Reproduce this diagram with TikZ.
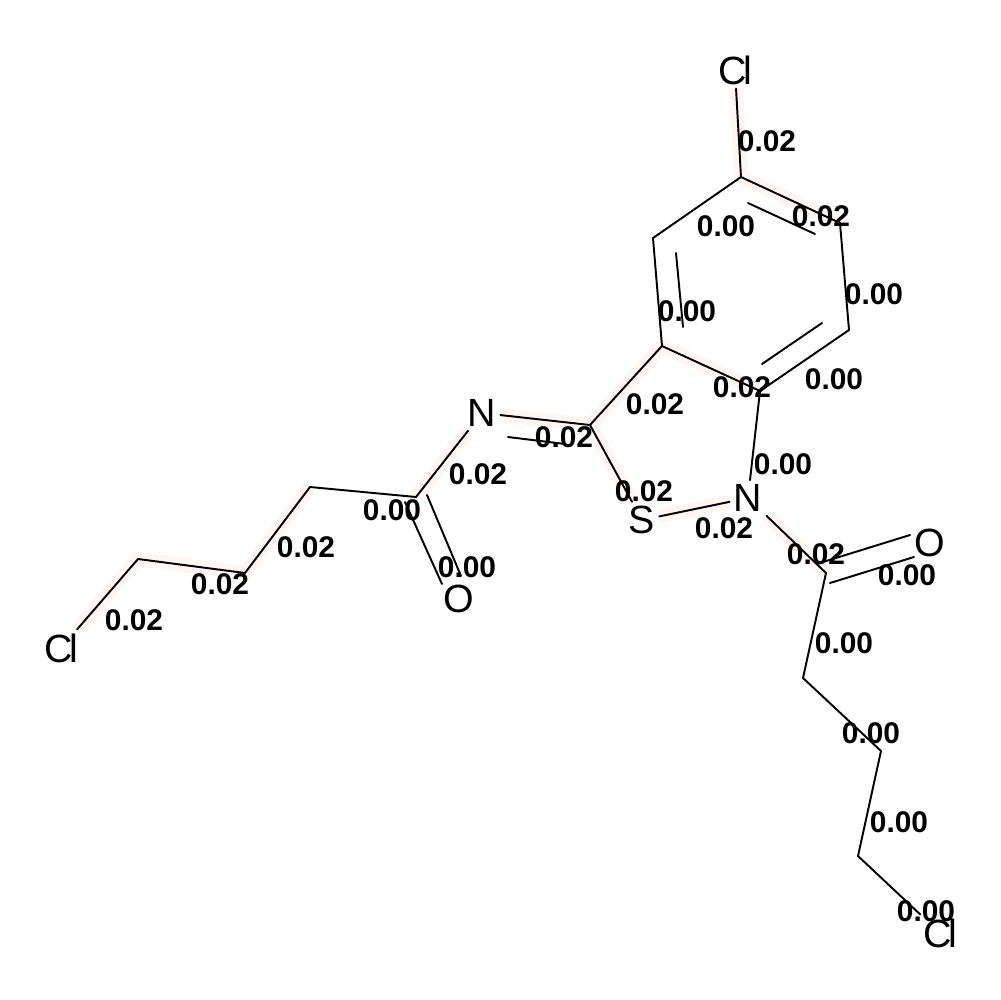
\documentclass[tikz,border=0pt]{standalone}
\usepackage{fontspec}
\setmainfont{Liberation Sans}
\definecolor{halocol}{HTML}{FFF6F4}
\newcommand{\chlorine}{C\kern-1pt l}
\tikzset{
  atom/.style={inner sep=1pt,font=\fontsize{11.2}{13}\selectfont},
  weight/.style={inner sep=0pt,font=\fontsize{8.5}{10}\selectfont\bfseries},
  bond/.style={draw,line width=0.55pt,line cap=round},
  halo/.style={draw=halocol,line width=4pt}
}
\begin{document}
\begin{tikzpicture}[x=0.1mm,y=-0.1mm]
      \useasboundingbox (0,0) rectangle (1000,1000);
      % Atoms
      \node[atom] (cl1) at (735,70) {\chlorine};
      \coordinate (c1) at (741,177);
      \coordinate (c2) at (840,223);
      \coordinate (c3) at (849,330);
      \coordinate (c4) at (760,391);
      \coordinate (c5) at (662,346);
      \coordinate (c6) at (653,238);
      \node[atom] (n2) at (748,498) {N};
      \node[atom] (s) at (642,520) {S};
      \coordinate (c7) at (590,425);
      \node[atom] (n1) at (482,413) {N};
      \coordinate (c8) at (416,497);
      \node[atom] (o1) at (459,599) {O};
      \coordinate (c9) at (310,487);
      \coordinate (c10) at (245,573);
      \coordinate (c11) at (138,559);
      \node[atom] (cl2) at (61,648) {\chlorine};
      \coordinate (c12) at (826,573);
      \node[atom] (o2) at (930,543) {O};
      \coordinate (c13) at (803,678);
      \coordinate (c14) at (881,751);
      \coordinate (c15) at (858,856);
      \node[atom] (cl3) at (940,933) {\chlorine};

      % Second lines of the double bonds
      \coordinate (d1a) at (748,203);
      \coordinate (d1b) at (815,234);
      \coordinate (d2a) at (676,253);
      \coordinate (d2b) at (683,327);
      \coordinate (d3a) at (762,364);
      \coordinate (d3b) at (822,323);
      \coordinate (d4a) at (508,437);
      \coordinate (d4b) at (565,444);
      \coordinate (d5a) at (427,495);
      \coordinate (d5b) at (461,576);
      \coordinate (d5c) at (405,502);
      \coordinate (d5d) at (442,584);
      \coordinate (d6a) at (830,583);
      \coordinate (d6b) at (914,557);
      \coordinate (d6c) at (823,562);
      \coordinate (d6d) at (910,535);

      % Highlight
      \draw[halo] (cl1) -- (c1) -- (c2);
      \draw[halo] (c4) -- (c5) -- (c7) -- (n1) -- (c8);
      \draw[halo] (c7) -- (s) -- (n2) -- (c12);
      \draw[halo] (c9) -- (c10) -- (c11) -- (cl2);

      % Bonds
      \draw[bond] (cl1) -- (c1);
      \draw[bond] (c1) -- (c2);
      \draw[bond] (d1a) -- (d1b);
      \draw[bond] (c2) -- (c3);
      \draw[bond] (c3) -- (c4);
      \draw[bond] (d3a) -- (d3b);
      \draw[bond] (c4) -- (c5);
      \draw[bond] (c5) -- (c6);
      \draw[bond] (d2a) -- (d2b);
      \draw[bond] (c6) -- (c1);
      \draw[bond] (c4) -- (n2);
      \draw[bond] (c5) -- (c7);
      \draw[bond] (c7) -- (s);
      \draw[bond] (s) -- (n2);
      \draw[bond] (c7) -- (n1);
      \draw[bond] (d4a) -- (d4b);
      \draw[bond] (n1) -- (c8);
      \draw[bond] (d5c) -- (d5d);
      \draw[bond] (d5a) -- (d5b);
      \draw[bond] (c8) -- (c9);
      \draw[bond] (c9) -- (c10);
      \draw[bond] (c10) -- (c11);
      \draw[bond] (c11) -- (cl2);
      \draw[bond] (n2) -- (c12);
      \draw[bond] (d6c) -- (d6d);
      \draw[bond] (d6a) -- (d6b);
      \draw[bond] (c12) -- (c13);
      \draw[bond] (c13) -- (c14);
      \draw[bond] (c14) -- (c15);
      \draw[bond] (c15) -- (cl3);

      % Weights
      \node[weight] (w1) at (767,141) {0.02};
      \node[weight] (w2) at (821,216) {0.02};
      \node[weight] (w3) at (726,226) {0.00};
      \node[weight] (w4) at (874,294) {0.00};
      \node[weight] (w5) at (687,311) {0.00};
      \node[weight] (w6) at (834,379) {0.00};
      \node[weight] (w7) at (742,387) {0.02};
      \node[weight] (w8) at (655,404) {0.02};
      \node[weight] (w9) at (564,437) {0.02};
      \node[weight] (w10) at (783,464) {0.00};
      \node[weight] (w11) at (478,474) {0.02};
      \node[weight] (w12) at (644,491) {0.02};
      \node[weight] (w13) at (724,528) {0.02};
      \node[weight] (w14) at (392,510) {0.00};
      \node[weight] (w15) at (467,567) {0.00};
      \node[weight] (w16) at (816,554) {0.02};
      \node[weight] (w17) at (907,575) {0.00};
      \node[weight] (w18) at (306,547) {0.02};
      \node[weight] (w19) at (220,584) {0.02};
      \node[weight] (w20) at (134,620) {0.02};
      \node[weight] (w21) at (844,643) {0.00};
      \node[weight] (w22) at (871,733) {0.00};
      \node[weight] (w23) at (899,822) {0.00};
      \node[weight] (w24) at (926,911) {0.00};
    \end{tikzpicture}
\end{document}
